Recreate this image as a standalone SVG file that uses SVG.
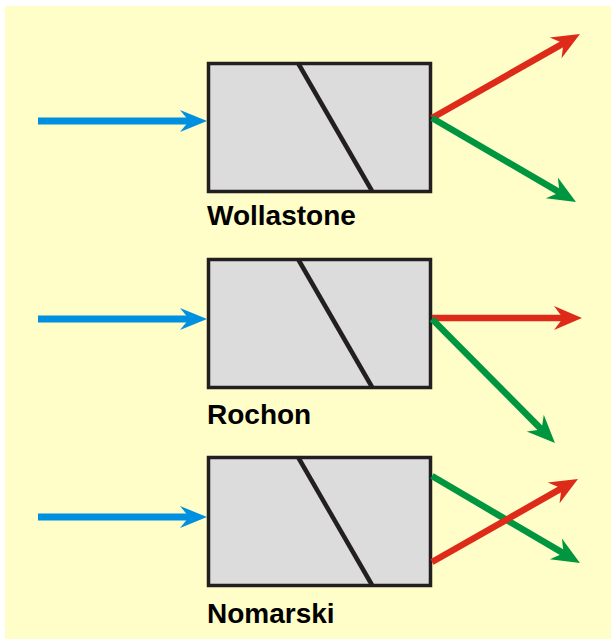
<svg xmlns="http://www.w3.org/2000/svg" width="611" height="639" viewBox="0 0 611 639">
<style>
.box{fill:#DCDCDC;stroke:#231F20;stroke-width:3.5}
.diag{stroke:#231F20;stroke-width:4.5;fill:none}
.lbl{font-family:"Liberation Sans",Arial,sans-serif;font-weight:bold;font-size:28px;fill:#000}
.blue{stroke:#0090E0;stroke-width:7;fill:none}
.red{stroke:#DE2A18;stroke-width:6.5;fill:none}
.green{stroke:#00963F;stroke-width:6.5;fill:none}
</style>
<defs>
<marker id="hb" markerUnits="userSpaceOnUse" markerWidth="28" markerHeight="22" refX="13" refY="11" orient="auto" overflow="visible"><path d="M0,0 L27,11 L0,22 L9,11 z" fill="#0090E0"/></marker>
<marker id="hr" markerUnits="userSpaceOnUse" markerWidth="28" markerHeight="24" refX="14" refY="12" orient="auto" overflow="visible"><path d="M0,0 L28,12 L0,24 L9,12 z" fill="#DE2A18"/></marker>
<marker id="hg" markerUnits="userSpaceOnUse" markerWidth="28" markerHeight="24" refX="14" refY="12" orient="auto" overflow="visible"><path d="M0,0 L28,12 L0,24 L9,12 z" fill="#00963F"/></marker>
</defs>
<rect x="5" y="6" width="606" height="633" fill="#FFFDC8"/>
<g id="wollastone">
<rect class="box" x="208.5" y="63.5" width="222" height="128"/>
<line class="diag" x1="298" y1="63" x2="372" y2="191"/>
<text class="lbl" x="207" y="225">Wollastone</text>
</g>
<g id="rochon">
<rect class="box" x="208.5" y="259.5" width="222" height="128"/>
<line class="diag" x1="298" y1="259" x2="372" y2="387"/>
<text class="lbl" x="207" y="424">Rochon</text>
</g>
<g id="nomarski">
<rect class="box" x="208.5" y="457.5" width="222" height="128"/>
<line class="diag" x1="298" y1="457" x2="372" y2="585"/>
<text class="lbl" x="207" y="623">Nomarski</text>
</g>
<g id="connectors">
<line class="blue" x1="38" y1="121" x2="193" y2="121" marker-end="url(#hb)"/>
<line class="blue" x1="38" y1="319" x2="193" y2="319" marker-end="url(#hb)"/>
<line class="blue" x1="38" y1="517" x2="193" y2="517" marker-end="url(#hb)"/>
<line class="red" x1="432" y1="118" x2="567.8" y2="40.9" marker-end="url(#hr)"/>
<line class="green" x1="432" y1="118" x2="563.9" y2="194.9" marker-end="url(#hg)"/>
<line class="red" x1="432" y1="318" x2="568" y2="318" marker-end="url(#hr)"/>
<line class="green" x1="432" y1="319" x2="545.1" y2="433.1" marker-end="url(#hg)"/>
<line class="green" x1="432" y1="476" x2="567.9" y2="555.9" marker-end="url(#hg)"/>
<line class="red" x1="432" y1="562" x2="565.8" y2="485.9" marker-end="url(#hr)"/>
</g>
</svg>
